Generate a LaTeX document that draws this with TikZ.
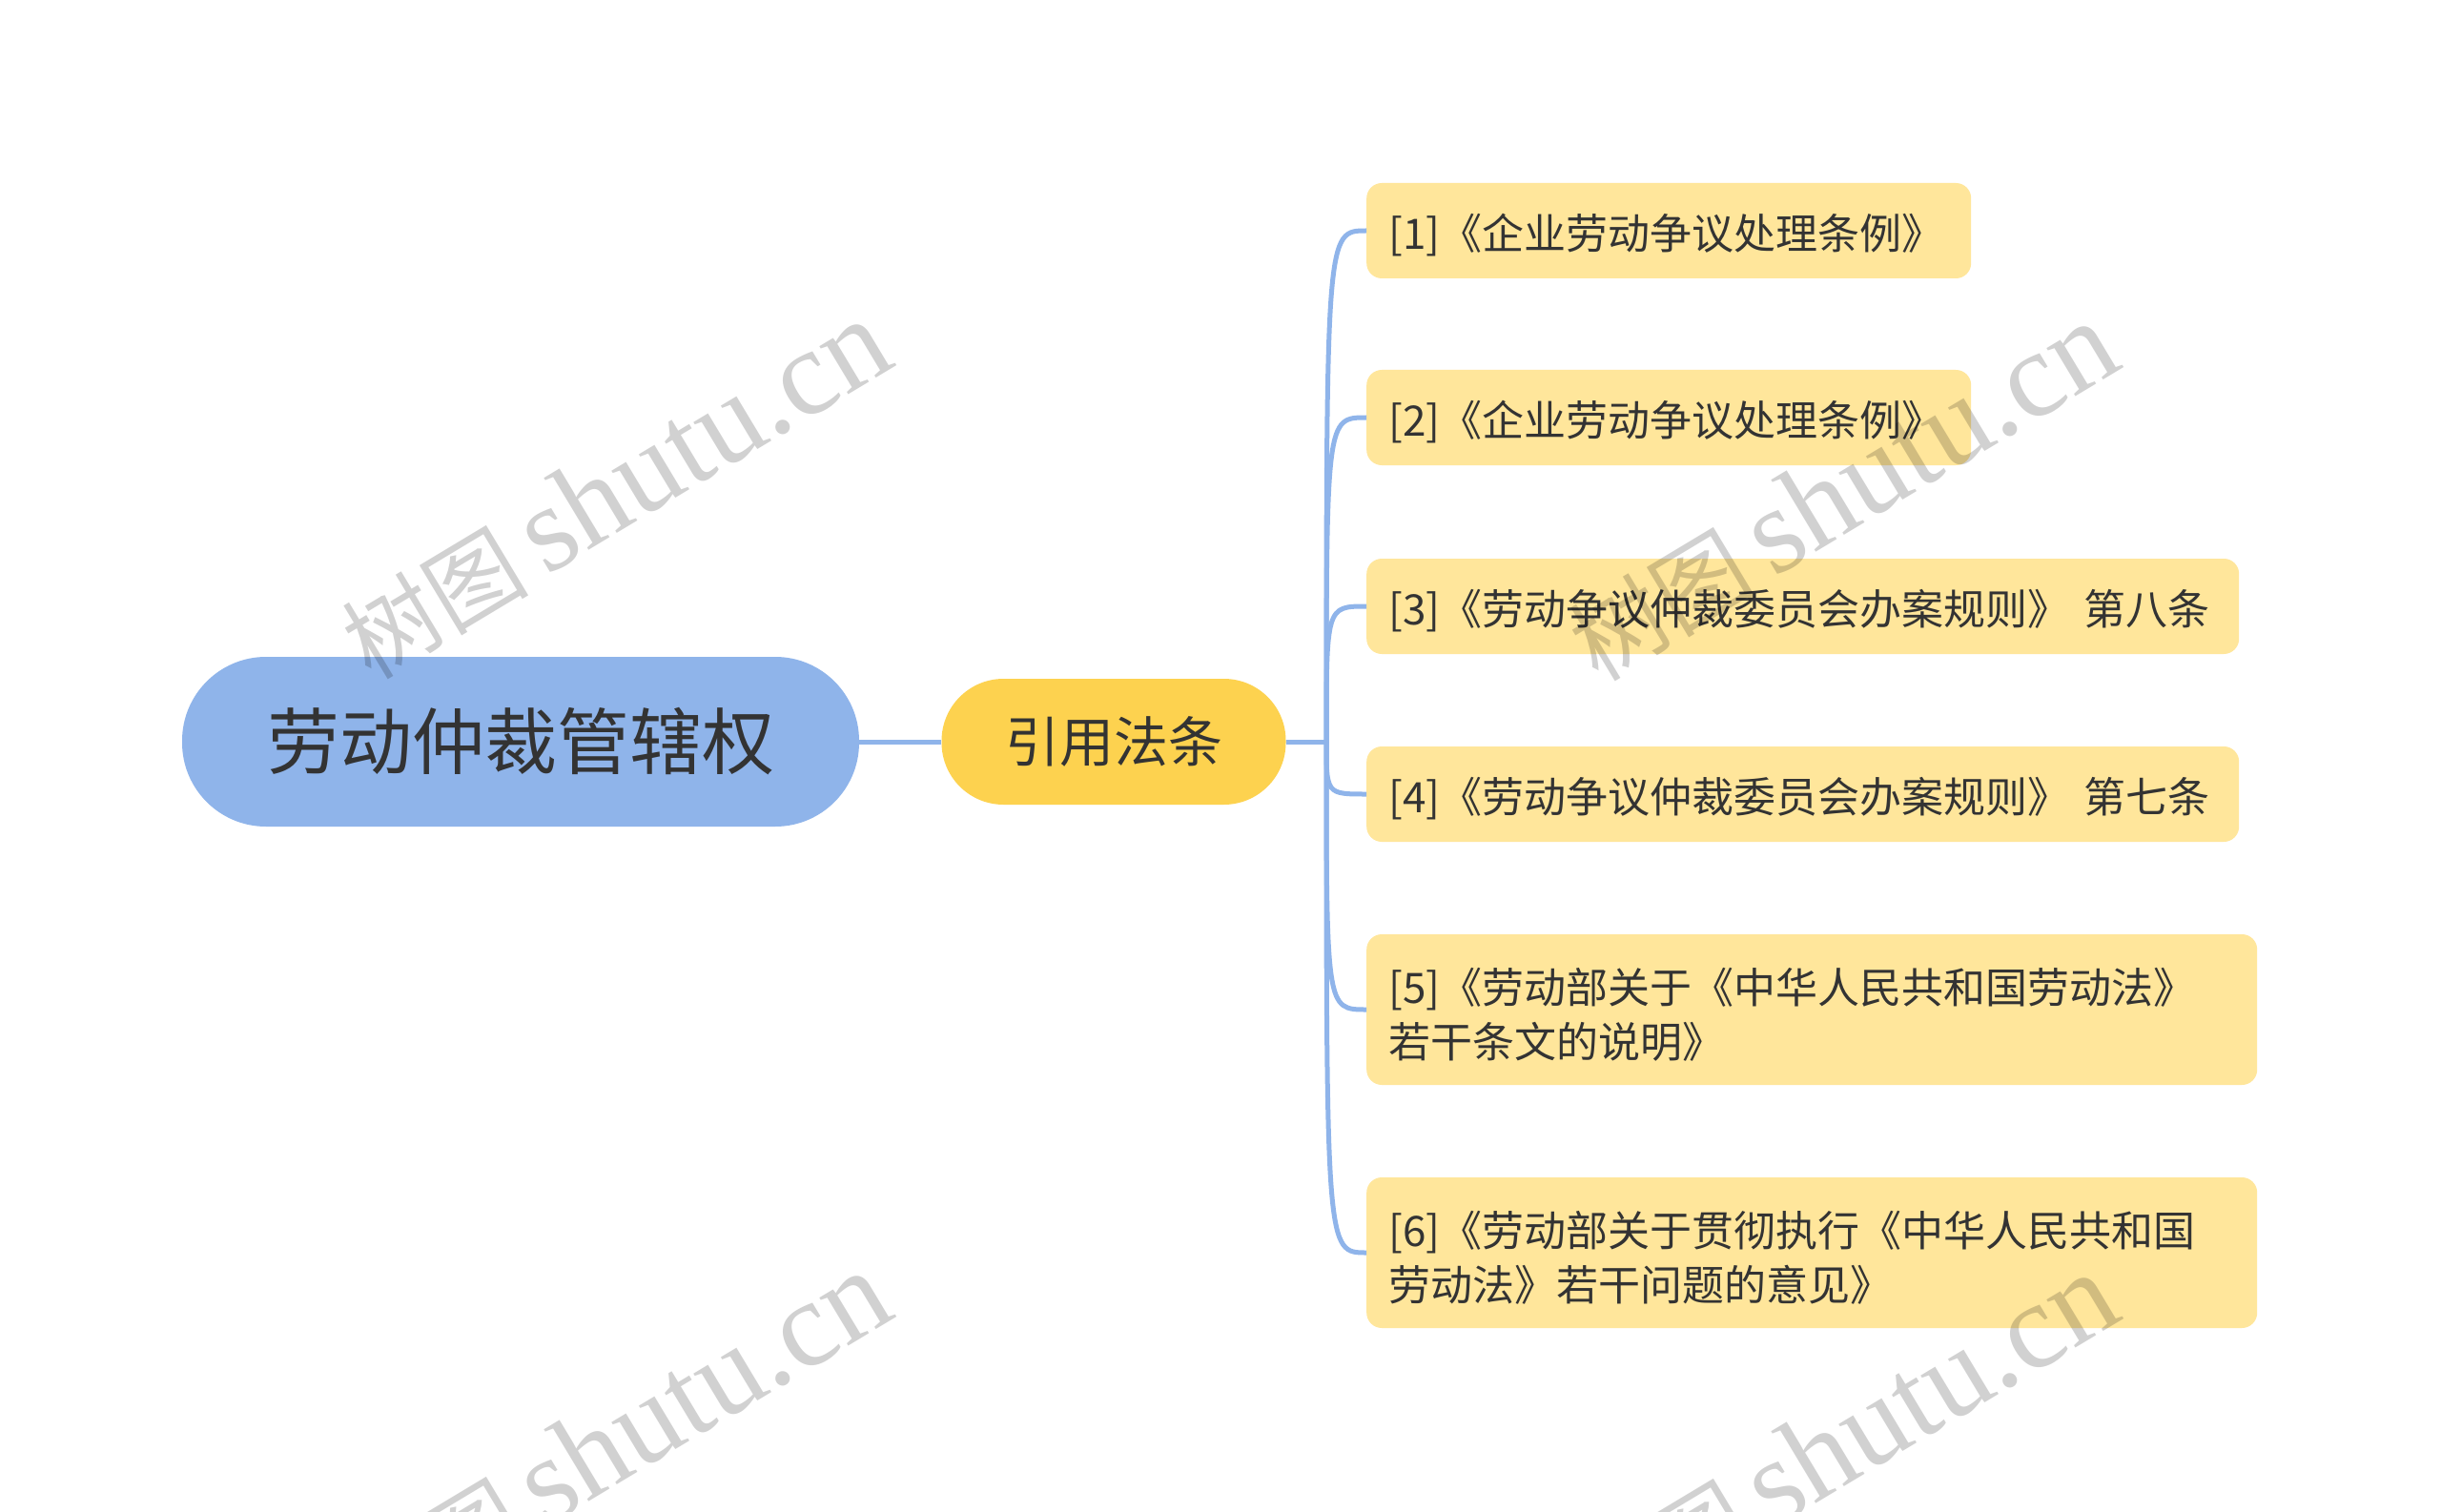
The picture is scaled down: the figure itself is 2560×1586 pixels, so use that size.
\documentclass[tikz,border=0pt]{standalone}
\usepackage{fontspec}
\setmainfont{Noto Sans CJK SC}
\newfontfamily\wmlatin{Liberation Serif}
\newfontfamily\wmcjk{Noto Sans CJK SC}
\definecolor{rootc}{HTML}{8FB4EA}
\definecolor{midc}{HTML}{FDD24F}
\definecolor{leafc}{HTML}{FFE69B}
\definecolor{linec}{HTML}{8FB4EA}
\definecolor{txt}{HTML}{333333}
\newcommand\lftext[1]{\raisebox{-5pt}[\height][\depth]{#1}}
\newcommand\wmtext{{\wmcjk\fontsize{98}{110}\selectfont 树图}\hspace{18pt}{\wmlatin\fontsize{128}{130}\selectfont shutu.cn}}
\tikzset{
  rootbox/.style={fill=rootc, rounded corners=88pt, minimum width=710pt, minimum height=178pt, inner sep=0pt, text=txt, font=\fontsize{76}{90}\selectfont},
  midbox/.style={fill=midc, rounded corners=65pt, minimum width=361pt, minimum height=132pt, inner sep=0pt, text=txt, font=\fontsize{57}{68}\selectfont},
  leafbox/.style={fill=leafc, rounded corners=16pt, inner xsep=23pt, inner ysep=0pt, anchor=west, align=left, text=txt, font=\fontsize{44}{57}\selectfont},
  conn/.style={draw=linec, line width=5pt},
  wmark/.style={text=black, text opacity=0.18, rotate=31, inner sep=0pt}
}
\begin{document}
\begin{tikzpicture}[x=1pt,y=-1pt]
\useasboundingbox[fill=white] (0,0) rectangle (2560,1586);

\node[rootbox] (root) at (546,778) {劳动仲裁管辖权};
\node[midbox] (mid) at (1168,778) {引用法条};
\coordinate (J) at (1391,778);

\node[leafbox, text width=588pt, minimum height=100pt] (l1) at (1433,242) {\lftext{[1]《企业劳动争议处理条例》}};
\node[leafbox, text width=588pt, minimum height=100pt] (l2) at (1433,438) {\lftext{[2]《企业劳动争议处理条例》}};
\node[leafbox, text width=869pt, minimum height=100pt] (l3) at (1433,636) {\lftext{[3]《劳动争议仲裁委员会办案规则》 第八条}};
\node[leafbox, text width=869pt, minimum height=100pt] (l4) at (1433,833) {\lftext{[4]《劳动争议仲裁委员会办案规则》 第七条}};
\node[leafbox, text width=888pt, minimum height=158pt] (l5) at (1433,1059) {\lftext{[5]《劳动部关于《中华人民共和国劳动法》}\\\lftext{若干条文的说明》}};
\node[leafbox, text width=888pt, minimum height=158pt] (l6) at (1433,1314) {\lftext{[6]《劳动部关于贯彻执行《中华人民共和国}\\\lftext{劳动法》若干问题的意见》}};

\draw[conn] (root.east) -- (mid.west);
\draw[conn] (mid.east) -- (J);
\foreach \l in {l1,l2,l3,l4,l5,l6}{
  \draw[conn] (J) .. controls (J |- \l.west) and (J |- \l.west) .. (\l.west);
}

\node[wmark] (w1) at (645,514) {\wmtext};
\node[wmark] (w2) at (1932,516) {\wmtext};
\node[wmark] (w3) at (645,1512) {\wmtext};
\node[wmark] (w4) at (1932,1514) {\wmtext};
\end{tikzpicture}
\end{document}
